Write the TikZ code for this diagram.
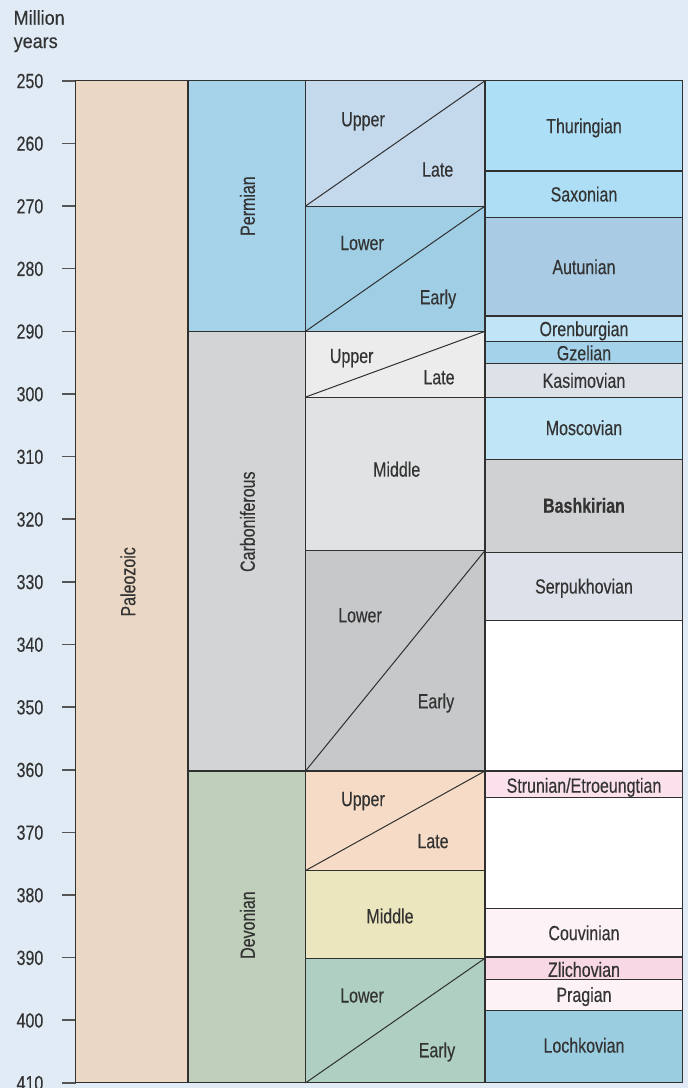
\documentclass[tikz,border=0pt]{standalone}
\usepackage{fontspec}
\setmainfont{Liberation Sans}[FakeStretch=0.78, FakeBold=0.3]
\newfontfamily\hdrfont{Liberation Sans}[FakeStretch=0.9, FakeBold=0.3]
\definecolor{bg}{HTML}{E0EBF6}
\definecolor{linec}{HTML}{303030}
\definecolor{tickc}{HTML}{555555}
\definecolor{txt}{HTML}{333333}
\definecolor{paleo}{HTML}{EAD8C4}
\definecolor{perm}{HTML}{A6D3EA}
\definecolor{carb}{HTML}{D3D4D6}
\definecolor{devo}{HTML}{BFCFB9}
\definecolor{pup}{HTML}{C5D9EC}
\definecolor{plow}{HTML}{A0CFE5}
\definecolor{cup}{HTML}{ECECED}
\definecolor{cmid}{HTML}{E1E2E4}
\definecolor{clow}{HTML}{C7C8CA}
\definecolor{dup}{HTML}{F6DCC6}
\definecolor{dmid}{HTML}{ECE6BE}
\definecolor{dlow}{HTML}{AECFC1}
\definecolor{sthur}{HTML}{ADDFF7}
\definecolor{ssax}{HTML}{ADDEF5}
\definecolor{saut}{HTML}{A9CCE4}
\definecolor{soren}{HTML}{C1E5F6}
\definecolor{sgzel}{HTML}{A3D2EA}
\definecolor{skas}{HTML}{DDE1E8}
\definecolor{smos}{HTML}{C0E5F6}
\definecolor{sbash}{HTML}{D0D1D3}
\definecolor{sserp}{HTML}{DDE1E9}
\definecolor{sstru}{HTML}{FBE1EC}
\definecolor{scouv}{HTML}{FDF2F6}
\definecolor{szlic}{HTML}{F8D8E4}
\definecolor{sprag}{HTML}{FDF2F6}
\definecolor{sloch}{HTML}{9BCDE0}
\tikzset{
  box/.style={draw=linec, line width=1.1pt},
  diag/.style={draw=linec, line width=1pt},
  tickmark/.style={draw=tickc, line width=1.6pt},
  lab/.style={text=txt, font=\fontsize{20.5}{23}\selectfont, inner sep=0pt, text height=14.6pt, text depth=0pt},
  vlab/.style={lab, rotate=90},
  axlab/.style={lab, anchor=east},
}
\begin{document}
\begin{tikzpicture}[x=1pt,y=-6.263pt]
\path[fill=bg] (0,237.10) rectangle (688,410.82);
\useasboundingbox (0,237.10) rectangle (688,410.82);

% header
\node[text=txt, inner sep=0pt, anchor=north west, align=left, font=\hdrfont\fontsize{20}{23.3}\selectfont] (hdr) at (13.5,238.7) {Million\\years};

% axis ticks and labels
\foreach \m in {250,260,...,410} {
  \draw[tickmark] (62,\m) -- (75.5,\m);
  \node[axlab] (ax\m) at (43.5,\m) {\m};
}

% era
\filldraw[box, fill=paleo] (75.5,250) rectangle (188,410);
\node[vlab] (paleozoic) at (128,330) {Paleozoic};

% periods
\filldraw[box, fill=perm] (188,250) rectangle (305.5,290);
\filldraw[box, fill=carb] (188,290) rectangle (305.5,360.2);
\filldraw[box, fill=devo] (188,360.2) rectangle (305.5,410);
\node[vlab] (permian) at (247.5,270) {Permian};
\node[vlab] (carbon) at (247.5,320.4) {Carboniferous};
\node[vlab] (devon) at (247.5,384.8) {Devonian};

% epochs
\filldraw[box, fill=pup] (305.5,250) rectangle (485,270);
\draw[diag] (305.5,270) -- (485,250);
\filldraw[box, fill=plow] (305.5,270) rectangle (485,290);
\draw[diag] (305.5,290) -- (485,270);
\filldraw[box, fill=cup] (305.5,290) rectangle (485,300.5);
\draw[diag] (305.5,300.5) -- (485,290);
\filldraw[box, fill=cmid] (305.5,300.5) rectangle (485,325);
\filldraw[box, fill=clow] (305.5,325) rectangle (485,360.2);
\draw[diag] (305.5,360.2) -- (485,325);
\filldraw[box, fill=dup] (305.5,360.2) rectangle (485,376.1);
\draw[diag] (305.5,376.1) -- (485,360.2);
\filldraw[box, fill=dmid] (305.5,376.1) rectangle (485,390.1);
\filldraw[box, fill=dlow] (305.5,390.1) rectangle (485,410);
\draw[diag] (305.5,410) -- (485,390.1);

\node[lab] (pu1) at (363,256.1) {Upper};
\node[lab] (pu2) at (437.7,264.13) {Late};
\node[lab] (pl1) at (362,275.85) {Lower};
\node[lab] (pl2) at (438,284.52) {Early};
\node[lab] (cu1) at (351.7,293.89) {Upper};
\node[lab] (cu2) at (439,297.29) {Late};
\node[lab] (cm) at (396.7,312.03) {Middle};
\node[lab] (cl1) at (360,335.3) {Lower};
\node[lab] (cl2) at (436,349.03) {Early};
\node[lab] (du1) at (363,364.64) {Upper};
\node[lab] (du2) at (433,371.35) {Late};
\node[lab] (dm) at (390,383.35) {Middle};
\node[lab] (dl1) at (362,396.0) {Lower};
\node[lab] (dl2) at (437,404.74) {Early};

% stages
\filldraw[box, fill=sthur] (485,250) rectangle (682.5,264.4);
\filldraw[box, fill=ssax] (485,264.4) rectangle (682.5,271.8);
\filldraw[box, fill=saut] (485,271.8) rectangle (682.5,287.55);
\filldraw[box, fill=soren] (485,287.55) rectangle (682.5,291.65);
\filldraw[box, fill=sgzel] (485,291.65) rectangle (682.5,295.2);
\filldraw[box, fill=skas] (485,295.2) rectangle (682.5,300.5);
\filldraw[box, fill=smos] (485,300.5) rectangle (682.5,310.4);
\filldraw[box, fill=sbash] (485,310.4) rectangle (682.5,325.3);
\filldraw[box, fill=sserp] (485,325.3) rectangle (682.5,336.1);
\filldraw[box, fill=white] (485,336.1) rectangle (682.5,360.2);
\filldraw[box, fill=sstru] (485,360.2) rectangle (682.5,364.4);
\filldraw[box, fill=white] (485,364.4) rectangle (682.5,382.2);
\filldraw[box, fill=scouv] (485,382.2) rectangle (682.5,389.9);
\filldraw[box, fill=szlic] (485,389.9) rectangle (682.5,393.5);
\filldraw[box, fill=sprag] (485,393.5) rectangle (682.5,398.4);
\filldraw[box, fill=sloch] (485,398.4) rectangle (682.5,410);

\node[lab] (thur) at (584,257.2) {Thuringian};
\node[lab] (sax) at (584,268.1) {Saxonian};
\node[lab] (aut) at (584,279.7) {Autunian};
\node[lab] (oren) at (584,289.6) {Orenburgian};
\node[lab] (gzel) at (584,293.45) {Gzelian};
\node[lab] (kas) at (584,297.85) {Kasimovian};
\node[lab] (mosc) at (584,305.4) {Moscovian};
\node[lab, font=\fontsize{20.5}{23}\selectfont\bfseries] (bash) at (584,317.8) {Bashkirian};
\node[lab] (serp) at (584,330.7) {Serpukhovian};
\node[lab] (stru) at (584,362.5) {Strunian/Etroeungtian};
\node[lab] (couv) at (584,386.05) {Couvinian};
\node[lab] (zlic) at (584,391.9) {Zlichovian};
\node[lab] (prag) at (584,395.9) {Pragian};
\node[lab] (loch) at (584,404.0) {Lochkovian};
\end{tikzpicture}
\end{document}
